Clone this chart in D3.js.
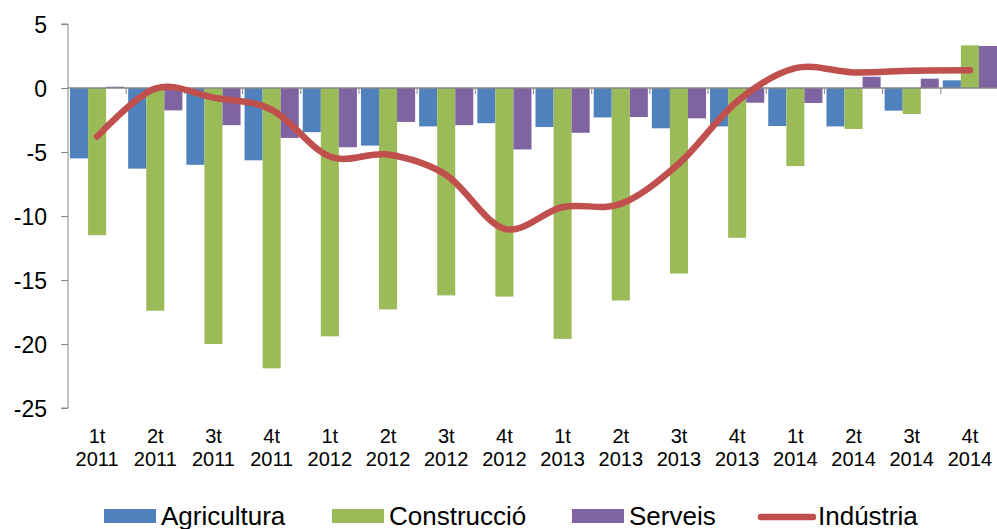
<!DOCTYPE html>
<html>
<head>
<meta charset="utf-8">
<script src="https://cdn.jsdelivr.net/npm/d3@7"></script>
<style>
  body { margin: 0; background: #fff; }
  text { font-family: "Liberation Sans", Arial, sans-serif; fill: #000; }
</style>
</head>
<body>
<svg width="997" height="529"></svg>
<script>
var quarters = ["1t", "2t", "3t", "4t", "1t", "2t", "3t", "4t", "1t", "2t", "3t", "4t", "1t", "2t", "3t", "4t"];
var years = ["2011", "2011", "2011", "2011", "2012", "2012", "2012", "2012", "2013", "2013", "2013", "2013", "2014", "2014", "2014", "2014"];
var agricultura = [-5.5, -6.3, -6.0, -5.65, -3.45, -4.5, -3.0, -2.75, -3.05, -2.3, -3.15, -3.0, -2.97, -3.0, -1.77, 0.6];
var construccio = [-11.5, -17.4, -20.0, -21.9, -19.4, -17.3, -16.2, -16.3, -19.6, -16.6, -14.5, -11.7, -6.1, -3.2, -2.03, 3.33];
var serveis = [0.1, -1.75, -2.9, -3.9, -4.63, -2.65, -2.9, -4.8, -3.5, -2.27, -2.37, -1.15, -1.17, 0.88, 0.73, 3.28];
var industria = [-3.8, -0.05, -0.75, -1.7, -5.35, -5.2, -6.8, -11.0, -9.3, -9.05, -5.9, -1.05, 1.55, 1.22, 1.35, 1.38];
var yTicks = [5, 0, -5, -10, -15, -20, -25];
var seriesNames = ["Agricultura", "Construcció", "Serveis"];
var colors = ["#4F81BD", "#9BBB59", "#8064A2"];
var lineColor = "#C0504D";

var svg = d3.select("svg");
var mLeft = 68, mRight = 999, mTop = 24, mBottom = 408;

var idx = d3.range(quarters.length);
var x = d3.scaleBand().domain(idx).range([mLeft, mRight]).padding(0);
var x1 = d3.scaleBand().domain([0, 1, 2]).range([2, x.bandwidth() - 2]);
var y = d3.scaleLinear().domain([-25, 5]).range([mBottom, mTop]);

var data = [agricultura, construccio, serveis];

// bars
data.forEach(function (vals, s) {
  svg.append("g")
    .selectAll("rect")
    .data(vals)
    .enter()
    .append("rect")
    .attr("x", function (d, i) { return x(i) + x1(s); })
    .attr("width", x1.bandwidth())
    .attr("y", function (d) { return y(Math.max(0, d)); })
    .attr("height", function (d) { return Math.abs(y(d) - y(0)); })
    .style("fill", colors[s]);
});

// y axis
var yAxis = svg.append("g")
  .attr("transform", "translate(" + mLeft + ",0)")
  .call(d3.axisLeft(y).tickValues(yTicks).tickSize(7).tickPadding(14).tickFormat(function (d) { return String(d); }));
yAxis.select(".domain").attr("stroke", "#868686").attr("d", "M-7," + y(5) + "H0V" + y(-25) + "H-7");
yAxis.selectAll(".tick line").attr("stroke", "#868686");
yAxis.selectAll(".tick text").style("font-size", "23px").attr("dy", "0.35em");

// zero line with category ticks
svg.append("line")
  .attr("x1", mLeft).attr("x2", mRight)
  .attr("y1", y(0)).attr("y2", y(0))
  .attr("stroke", "#868686").attr("stroke-width", 1.3);
svg.append("g")
  .selectAll("line")
  .data(idx.slice(1))
  .enter()
  .append("line")
  .attr("x1", function (i) { return x(i); })
  .attr("x2", function (i) { return x(i); })
  .attr("y1", y(0)).attr("y2", y(0) + 6)
  .attr("stroke", "#868686");

// category labels
var lab = svg.append("g").selectAll("text").data(idx).enter().append("text")
  .attr("text-anchor", "middle")
  .style("font-size", "20px");
lab.append("tspan")
  .attr("x", function (i) { return x(i) + x.bandwidth() / 2; })
  .attr("y", 443)
  .text(function (i) { return quarters[i]; });
lab.append("tspan")
  .attr("x", function (i) { return x(i) + x.bandwidth() / 2; })
  .attr("y", 466)
  .text(function (i) { return years[i]; });

// industria line
var line = d3.line()
  .x(function (d, i) { return x(i) + x.bandwidth() / 2; })
  .y(function (d) { return y(d); })
  .curve(d3.curveCardinal.tension(0));
svg.append("path")
  .datum(industria)
  .attr("d", line)
  .attr("fill", "none")
  .attr("stroke", lineColor)
  .attr("stroke-width", 6.5)
  .attr("stroke-linecap", "round")
  .attr("stroke-linejoin", "round");

// legend
var legX = [104, 332, 572];
seriesNames.forEach(function (n, s) {
  svg.append("rect").attr("x", legX[s]).attr("y", 509).attr("width", 52).attr("height", 14).style("fill", colors[s]);
  svg.append("text").attr("x", legX[s] + 57).attr("y", 525).style("font-size", "26px").text(n);
});
svg.append("line")
  .attr("x1", 761).attr("x2", 813).attr("y1", 517).attr("y2", 517)
  .attr("stroke", lineColor).attr("stroke-width", 6.5).attr("stroke-linecap", "round");
svg.append("text").attr("x", 818).attr("y", 525).style("font-size", "26px").text("Indústria");
</script>
</body>
</html>
